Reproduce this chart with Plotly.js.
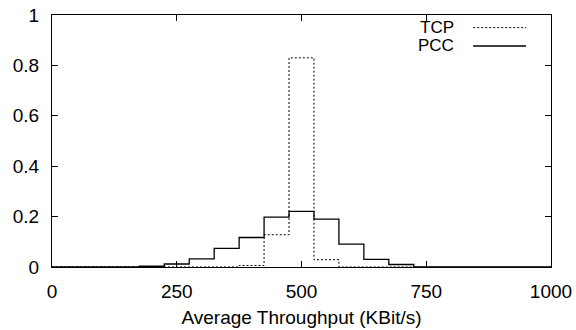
<!DOCTYPE html>
<html>
<head>
<meta charset="utf-8">
<script src="https://cdn.plot.ly/plotly-3.0.1.min.js"></script>
<style>html,body{margin:0;padding:0;background:#fff;}#chart{width:576px;height:330px;}</style>
</head>
<body>
<div id="chart"></div>
<script>
// Bin centres (KBit/s), bin width 50
const binCenters = [0,50,100,150,200,250,300,350,400,450,500,550,600,650,700,750,800,850,900,950,1000];
// Fraction of flows per bin
const tcpValues = [0,0,0,0,0,0,0,0,0.006,0.128,0.83,0.029,0,0,0,0,0,0,0,0,0];
const pccValues = [0,0,0,0,0.003,0.012,0.032,0.074,0.117,0.198,0.221,0.19,0.091,0.030,0.010,0,0,0,0,0,0];
const seriesNames = ["TCP","PCC"];
const xTickVals = [0,250,500,750,1000];
const yTickVals = [0,0.2,0.4,0.6,0.8,1];
const xTitle = "Average Throughput (KBit/s)";

const FONT = "Liberation Sans, Arial, sans-serif";

const traces = [
  {x: binCenters, y: tcpValues, name: seriesNames[0], type: "scatter", mode: "lines",
   line: {shape: "hvh", color: "#000", width: 1, dash: "2px,2px"}, hoverinfo: "none"},
  {x: binCenters, y: pccValues, name: seriesNames[1], type: "scatter", mode: "lines",
   line: {shape: "hvh", color: "#000", width: 1.3}, hoverinfo: "none"}
];

const legendY = [0.950, 0.877];
const dashes = ["2px,2px", "solid"];
const annotations = seriesNames.map((n, i) => ({
  xref: "paper", yref: "paper", x: 0.808, y: legendY[i], xanchor: "right", yanchor: "middle",
  text: n, showarrow: false, borderpad: 0, font: {family: FONT, size: 17, color: "#000"}
}));
const shapes = seriesNames.map((n, i) => ({
  type: "line", xref: "paper", yref: "paper", x0: 0.844, x1: 0.950, y0: legendY[i], y1: legendY[i],
  line: {color: "#000", width: i === 0 ? 1 : 1.3, dash: dashes[i]}
}));

const axisCommon = {
  showgrid: false, zeroline: false, showline: true, linecolor: "#000", linewidth: 1,
  mirror: "ticks", ticks: "inside", ticklen: 6, tickcolor: "#000", tickwidth: 1,
  tickfont: {family: FONT, size: 19, color: "#000"}
};

const layout = {
  width: 576, height: 330,
  margin: {l: 52, r: 25, t: 15, b: 63},
  paper_bgcolor: "#fff", plot_bgcolor: "#fff",
  showlegend: false,
  font: {family: FONT, size: 19, color: "#000"},
  xaxis: Object.assign({}, axisCommon, {
    range: [0, 1000], tickvals: xTickVals, ticktext: xTickVals.map(String),
    ticklabelstandoff: 7,
    title: {text: xTitle, font: {family: FONT, size: 19, color: "#000"}, standoff: 9}
  }),
  yaxis: Object.assign({}, axisCommon, {
    range: [0, 1], tickvals: yTickVals, ticktext: yTickVals.map(String),
    ticklabelstandoff: 8
  }),
  annotations: annotations,
  shapes: shapes
};

Plotly.newPlot("chart", traces, layout, {staticPlot: true, displayModeBar: false});
</script>
</body>
</html>
